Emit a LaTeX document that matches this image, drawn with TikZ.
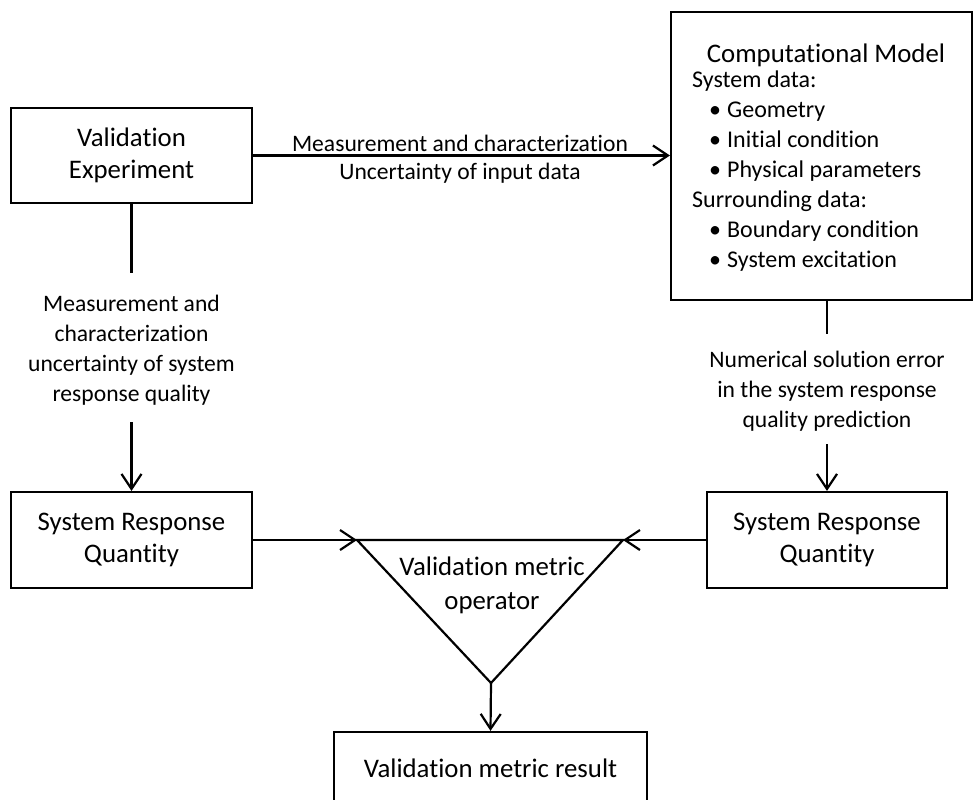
\documentclass[tikz,border=0pt]{standalone}
\usepackage{fontspec}
\setmainfont{Carlito}[Ligatures=NoCommon]
\usetikzlibrary{arrows.meta}
\begin{document}
\begin{tikzpicture}[x=1pt,y=-1pt,
  txt/.style={align=center, inner sep=0pt, font=\fontsize{23.6}{30}\selectfont},
  bigtxt/.style={align=center, inner sep=0pt, font=\fontsize{26.8}{32}\selectfont},
  box/.style={draw, line width=2.2pt, bigtxt},
  conn/.style={line width=2.2pt},
  arr/.style={conn, -{Straight Barb[length=15pt,width=20pt,line width=2.2pt]}},
]
\useasboundingbox (0,0) rectangle (974,800);

% boxes
\node[box, minimum width=241pt, minimum height=95pt] (ve) at (131.5,155.5) {Validation\\Experiment};
\node[box, minimum width=301pt, minimum height=288pt] (cm) at (821.5,156) {};
\node[box, minimum width=241pt, minimum height=96pt] (lsrq) at (131.5,540) {System Response\\Quantity};
\node[box, minimum width=240pt, minimum height=96pt] (rsrq) at (827,540) {System Response\\Quantity};
\node[box, minimum width=313pt, minimum height=78pt] (res) at (490.5,771) {};
\node[bigtxt] (restxt) at (490.5,768) {Validation metric result};

% contents of the computational model
\node[bigtxt] (cmtitle) at (826,55) {Computational Model};
\node[txt, font=\fontsize{24}{30}\selectfont, align=left, anchor=north west] (cmbody) at (692,71) {%
System data:\\
\hspace*{17pt}\textbullet\hspace{6pt}Geometry\\
\hspace*{17pt}\textbullet\hspace{6pt}Initial condition\\
\hspace*{17pt}\textbullet\hspace{6pt}Physical parameters\\
Surrounding data:\\
\hspace*{17pt}\textbullet\hspace{6pt}Boundary condition\\
\hspace*{17pt}\textbullet\hspace{6pt}System excitation};

% validation metric operator
\coordinate (tl) at (357,540);
\coordinate (tr) at (623,540);
\coordinate (tb) at (491,683);
\draw[conn, line join=miter] (tl) -- (tr) -- (tb) -- cycle;
\node[bigtxt, font=\fontsize{26.8}{34}\selectfont] (optxt) at (492,585) {Validation metric\\operator};

% labels
\node[txt] (toplbl1) at (460,143) {Measurement and characterization};
\node[txt] (toplbl2) at (460,173) {Uncertainty of input data};
\node[txt] (leftlbl) at (131.5,350) {Measurement and\\characterization\\uncertainty of system\\response quality};
\node[txt] (rightlbl) at (827,391) {Numerical solution error\\in the system response\\quality prediction};

% connectors
\coordinate (l1) at (131.5,273);
\coordinate (l2) at (131.5,422);
\coordinate (r1) at (827,334);
\coordinate (r2) at (827,444);
\draw[arr] (ve.east) -- (ve.east -| cm.west);
\draw[conn] (ve.south) -- (l1);
\draw[arr] (l2) -- (lsrq.north);
\draw[conn] (cm.south -| rsrq.north) -- (r1);
\draw[arr] (r2) -- (rsrq.north);
\draw[arr] (lsrq.east) -- (tl);
\draw[arr] (rsrq.west) -- (tr);
\draw[arr] (tb) -- (res.north);
\end{tikzpicture}
\end{document}
